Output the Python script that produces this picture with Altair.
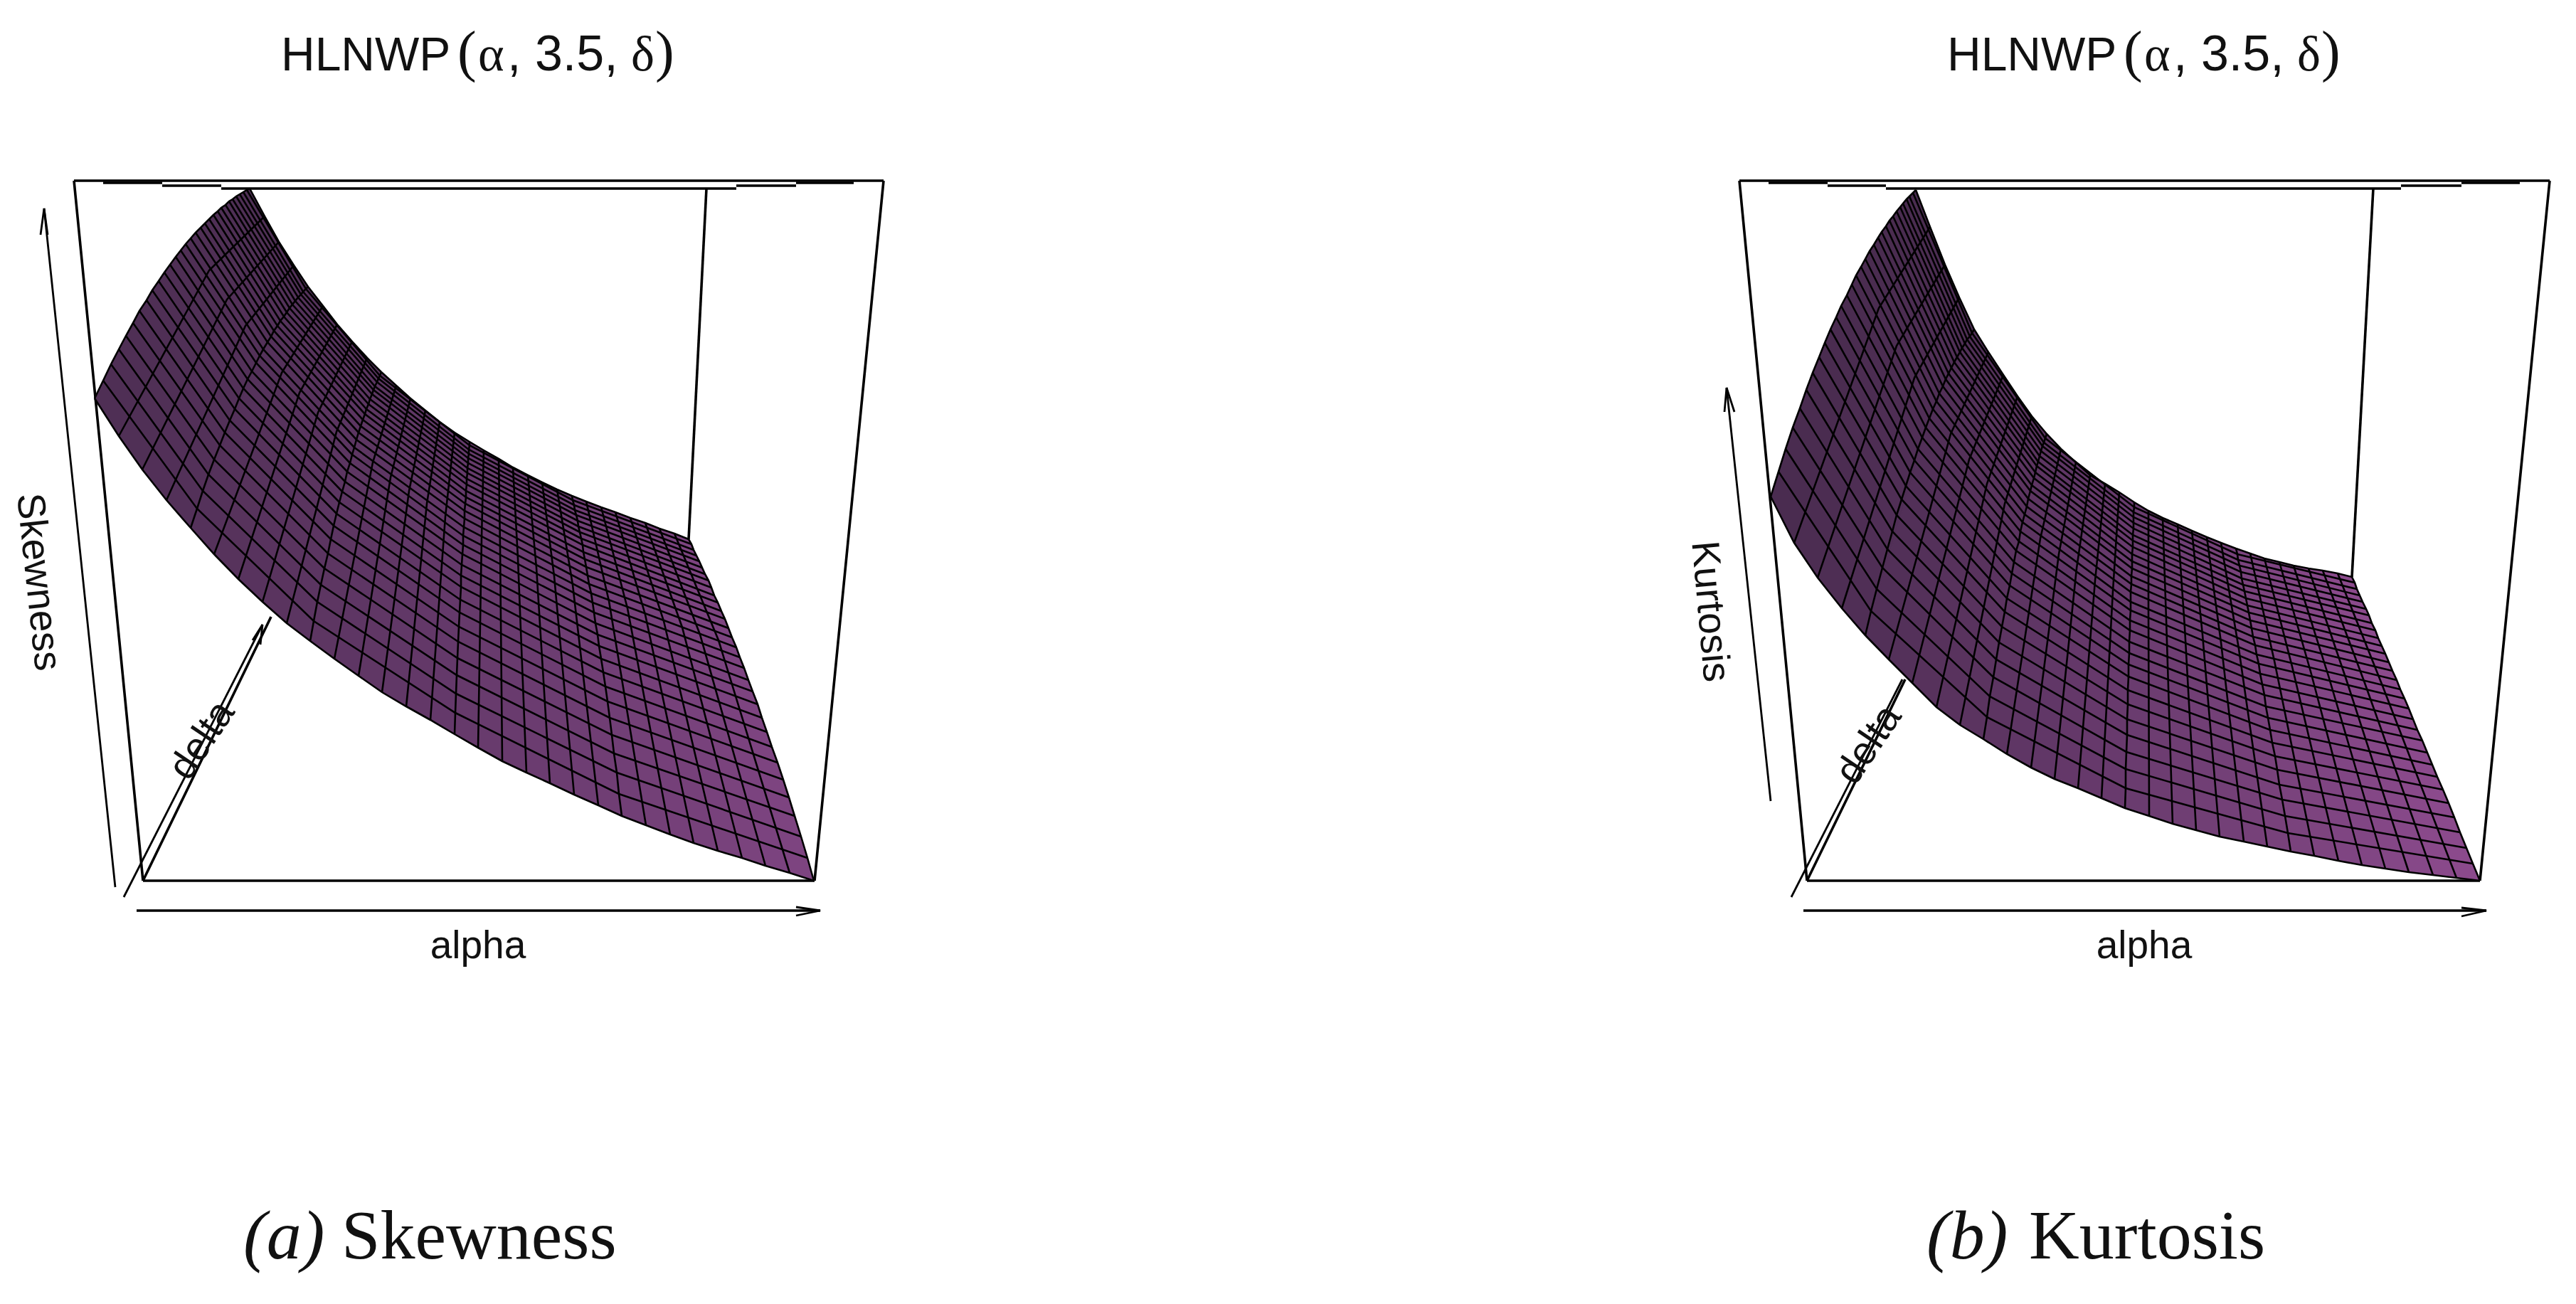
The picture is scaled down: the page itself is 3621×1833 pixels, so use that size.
import altair as alt

# ---- Panel (a) Skewness: surface vertices (page pixels) ----
A_FRONT_X = [133,167,200,234,268,301,335,369,403,436,470,504,537,571,605,639,672,706,740,773,807,841,874,908,942,975,1009,1043,1076,1110,1144]
A_FRONT_Y = [560,613,660,703,742,779,814,846,876,901,926,950,973,993,1012,1032,1051,1070,1086,1101,1117,1132,1147,1160,1173,1185,1196,1206,1217,1227,1238]
A_BACK_X = [351,372,392,413,433,454,474,495,516,536,557,577,598,618,639,660,680,701,721,742,762,783,804,824,845,865,886,907,927,948,968]
A_BACK_Y = [265,304,340,373,403,430,456,480,503,523,542,560,577,593,608,621,633,645,657,668,678,688,697,705,713,720,728,735,743,750,758]
A_MID_X = [268,294,319,345,370,396,421,447,473,498,524,549,575,600,626,652,677,703,728,754,779,805,831,856,882,907,933,959,984,1010,1035]
A_MID_Y = [335,380,421,458,491,524,552,580,607,629,650,671,690,708,726,741,756,771,785,798,810,822,834,845,855,864,873,882,892,900,910]

A_C0_X = [133,145,156,167,177,187,196,206,214,223,231,239,247,254,261,268,275,282,288,294,300,306,311,317,322,327,332,337,342,347,351]
A_C0_Y = [560,535,512,491,472,454,437,422,408,395,383,372,361,352,343,335,327,320,314,308,302,297,292,288,283,280,276,273,270,267,265]
A_C4_X = [268,277,285,293,301,309,316,323,330,336,342,348,354,360,365,370,376,381,385,390,394,399,403,407,411,415,419,423,426,430,433]
A_C4_Y = [742,715,690,667,646,626,608,591,575,560,546,533,522,510,500,491,481,473,465,458,451,445,439,433,428,423,418,414,410,406,403]
A_C9_X = [436,441,446,451,456,461,465,469,473,477,481,485,488,492,495,498,501,504,507,510,513,515,518,520,523,525,527,530,532,534,536]
A_C9_Y = [901,873,846,822,799,778,758,739,722,706,691,677,663,651,639,629,618,608,599,590,582,575,568,561,554,548,543,537,532,528,523]
A_C15_X = [639,640,641,642,643,644,645,646,647,648,648,649,650,651,651,652,653,653,654,655,655,656,656,657,657,658,658,659,659,660,660]
A_C15_Y = [1032,1002,975,949,925,902,881,861,843,825,809,794,779,766,753,741,729,718,708,699,690,681,673,665,658,651,644,638,632,626,621]
A_C22_X = [874,870,867,863,860,857,854,851,848,845,842,840,837,835,833,831,828,826,824,822,820,819,817,815,813,812,810,808,807,805,804]
A_C22_Y = [1147,1116,1086,1059,1033,1009,986,965,945,926,908,892,876,861,847,834,821,809,797,786,776,766,757,748,740,732,724,717,710,703,697]
A_C30_X = [1144,1135,1126,1117,1109,1101,1093,1085,1078,1071,1065,1058,1052,1046,1040,1035,1029,1024,1019,1014,1009,1004,1000,996,991,987,983,979,975,972,968]
A_C30_Y = [1238,1206,1176,1147,1121,1096,1072,1050,1029,1009,990,972,956,939,924,910,896,883,870,859,847,837,826,816,807,798,789,781,773,765,758]

# ---- Panel (b) Kurtosis ----
B_FRONT_X = [2489,2522,2555,2589,2622,2655,2688,2722,2755,2788,2821,2855,2888,2921,2954,2987,3021,3054,3087,3120,3154,3187,3220,3253,3287,3320,3353,3386,3420,3453,3486]
B_FRONT_Y = [698,763,812,855,893,927,960,994,1019,1039,1060,1079,1095,1108,1122,1136,1147,1158,1167,1176,1183,1190,1197,1203,1210,1216,1221,1226,1230,1234,1238]
B_BACK_X = [2693,2713,2734,2754,2775,2795,2816,2836,2856,2877,2897,2918,2938,2959,2979,3000,3020,3040,3061,3081,3102,3122,3143,3163,3183,3204,3224,3245,3265,3286,3306]
B_BACK_Y = [267,319,372,418,463,495,527,557,585,610,631,650,668,680,692,706,718,728,737,746,755,763,771,778,785,790,795,799,802,806,811]
B_MID_X = [2616,2641,2666,2691,2717,2742,2768,2793,2818,2843,2868,2894,2919,2945,2970,2995,3020,3045,3071,3096,3122,3147,3172,3197,3222,3248,3273,3298,3324,3349,3374]
B_MID_Y = [375,433,486,531,575,610,646,680,708,734,757,779,799,816,831,846,859,871,882,892,903,912,920,929,937,944,950,955,960,964,969]

B_C0_X = [2489,2500,2510,2520,2530,2539,2548,2557,2565,2573,2581,2588,2596,2603,2609,2616,2622,2628,2634,2640,2645,2651,2656,2661,2666,2671,2675,2680,2684,2689,2693]
B_C0_Y = [698,663,631,601,574,548,524,502,482,463,446,430,415,400,387,375,364,353,344,334,326,318,310,304,297,291,286,280,276,271,267]
B_C4_X = [2622,2630,2638,2646,2653,2660,2666,2673,2679,2685,2691,2696,2702,2707,2712,2717,2722,2726,2731,2735,2739,2743,2747,2751,2755,2758,2762,2765,2769,2772,2775]
B_C4_Y = [893,859,828,798,772,747,724,702,683,664,647,631,615,601,588,575,564,553,543,533,525,517,509,502,495,489,483,477,473,468,463]
B_C9_X = [2788,2793,2797,2802,2806,2810,2814,2818,2821,2825,2828,2831,2834,2838,2840,2843,2846,2849,2851,2854,2856,2859,2861,2863,2865,2867,2869,2871,2873,2875,2877]
B_C9_Y = [1039,1008,979,952,927,903,881,860,841,823,806,790,774,761,747,734,723,712,701,690,682,672,664,655,649,641,634,627,622,616,610]
B_C15_X = [2987,2988,2988,2989,2990,2990,2991,2991,2992,2992,2993,2993,2994,2994,2995,2995,2995,2996,2996,2997,2997,2997,2998,2998,2998,2999,2999,2999,2999,3000,3000]
B_C15_Y = [1136,1108,1081,1057,1033,1011,990,970,951,934,918,902,886,872,858,846,832,821,810,799,789,779,769,760,752,743,735,727,720,713,706]
B_C22_X = [3220,3216,3212,3208,3204,3201,3198,3194,3191,3188,3185,3183,3180,3177,3175,3172,3170,3167,3165,3163,3161,3159,3157,3155,3153,3151,3150,3148,3146,3145,3143]
B_C22_Y = [1197,1171,1147,1124,1103,1082,1063,1044,1026,1009,993,977,962,947,933,920,907,895,883,872,861,851,841,831,822,813,804,795,787,779,771]
B_C30_X = [3486,3476,3467,3458,3450,3442,3434,3426,3419,3412,3405,3398,3392,3386,3380,3374,3369,3363,3358,3353,3348,3343,3339,3334,3330,3326,3321,3317,3313,3310,3306]
B_C30_Y = [1238,1214,1192,1170,1149,1129,1110,1092,1075,1058,1041,1026,1011,996,982,969,956,943,931,919,908,897,886,876,865,856,846,837,828,819,811]

COLUMN_INDEX = [0, 4, 9, 15, 22, 30]

# Box lines, axes and arrow heads: polylines of (x, y)
BOX_LINES = [
    [(104,254),(1242,254)], [(104,254),(201,1238)], [(1242,254),(1145,1238)], [(201,1238),(1145,1238)],
    [(145,257),(228,257)], [(228,261),(311,261)], [(311,265),(1035,265)], [(1035,261),(1119,261)], [(1119,257),(1200,257)],
    [(993,265),(968,758)], [(201,1238),(381,867)],
    [(2445,254),(3584,254)], [(2445,254),(2540,1238)], [(3584,254),(3486,1238)], [(2540,1238),(3486,1238)],
    [(2486,257),(2569,257)], [(2569,261),(2651,261)], [(2651,265),(3375,265)], [(3375,261),(3460,261)], [(3460,257),(3542,257)],
    [(3336,265),(3306,811)], [(2540,1238),(2678,955)],
    [(192,1280),(1153,1280)], [(2535,1280),(3495,1280)],
]
THIN_LINES = [
    [(62,293),(162,1247)], [(174,1261),(369,878)], [(2427,545),(2489,1126)], [(2518,1261),(2674,955)],
    [(57,330),(62,293),(67,330)], [(355,900),(369,878),(366,906)],
    [(1119,1275),(1153,1280),(1119,1287)], [(3460,1276),(3495,1280),(3460,1288)],
    [(2424,579),(2427,545),(2438,579)],
]

SANS, SERIF = "Liberation Sans", "Liberation Serif"
TITLE_RUNS = [
    ("HLNWP", 395, 66, SANS), ("(", 643, 80, SERIF), ("α", 672, 70, SERIF),
    (", 3.5,", 713, 70, SANS), ("δ", 887, 70, SERIF), (")", 921, 80, SERIF),
]
TITLE_SHIFT = [0, 2342]
TEXTS = [
    ("alpha", 672, 1347, 55, 0, "center", SANS, "normal"),
    ("alpha", 3014, 1347, 55, 0, "center", SANS, "normal"),
    ("Skewness", 37, 820, 55, 84, "center", SANS, "normal"),
    ("Kurtosis", 2387, 861, 55, 85, "center", SANS, "normal"),
    ("delta", 298, 1050, 55, 304, "center", SANS, "normal"),
    ("delta", 2641, 1056, 55, 304, "center", SANS, "normal"),
    ("(a)", 342, 1769, 98, 0, "left", SERIF, "italic"),
    ("Skewness", 480, 1769, 98, 0, "left", SERIF, "normal"),
    ("(b)", 2708, 1769, 98, 0, "left", SERIF, "italic"),
    ("Kurtosis", 2852, 1769, 98, 0, "left", SERIF, "normal"),
]
for shift in TITLE_SHIFT:
    for run, rx, rsize, rfam in TITLE_RUNS:
        TEXTS.append((run, rx + shift, 99, rsize, 0, "left", rfam, "normal"))

W, H = 3600, 1810
X = alt.X("x:Q", axis=None, scale=alt.Scale(domain=[8, 8 + W], nice=False, zero=False))
Y = alt.Y("y:Q", axis=None, scale=alt.Scale(domain=[8 + H, 8], nice=False, zero=False))


def strips(front_x, front_y, mid_x, mid_y, back_x, back_y, c0x, c0y, c30x, c30y):
    feats = []
    for i in range(30):
        if i == 0:
            left = list(zip(c0x, c0y))
        else:
            left = [(front_x[i], front_y[i]), (mid_x[i], mid_y[i]), (back_x[i], back_y[i])]
        if i == 29:
            right = list(zip(c30x, c30y))
        else:
            right = [(front_x[i + 1], front_y[i + 1]), (mid_x[i + 1], mid_y[i + 1]), (back_x[i + 1], back_y[i + 1])]
        ring = left + right[::-1] + [left[0]]
        feats.append({"type": "Feature", "properties": {"i": i},
                      "geometry": {"type": "Polygon", "coordinates": [[list(p) for p in ring]]}})
    return feats


def fill_layer(feats, dark, light):
    data = alt.Data(values=feats)
    return alt.Chart(data).mark_geoshape(strokeWidth=1).encode(
        color=alt.Color("properties.i:Q", legend=None,
                        scale=alt.Scale(domain=[0, 29], range=[dark, light])),
        stroke=alt.Color("properties.i:Q", legend=None,
                         scale=alt.Scale(domain=[0, 29], range=[dark, light])),
    ).project(type="identity", scale=1, translate=[-8, -8])


def mesh_rows(panel, fx, fy, mx, my, bx, by, cols):
    rows = []
    # alpha-direction lines
    rows += [dict(id=f"{panel}a0", k=k, x=a, y=b) for k, (a, b) in enumerate(zip(fx, fy))]
    rows += [dict(id=f"{panel}a30", k=k, x=a, y=b) for k, (a, b) in enumerate(zip(bx, by))]
    for j in range(1, 30):
        for k, (cx, cy) in enumerate(cols):
            rows.append(dict(id=f"{panel}a{j}", k=k, x=cx[j], y=cy[j]))
    # delta-direction lines
    by_index = dict(zip(COLUMN_INDEX, cols))
    for i in range(31):
        if i in by_index:
            cx, cy = by_index[i]
            rows += [dict(id=f"{panel}d{i}", k=k, x=a, y=b) for k, (a, b) in enumerate(zip(cx, cy))]
        else:
            for k, (a, b) in enumerate([(fx[i], fy[i]), (mx[i], my[i]), (bx[i], by[i])]):
                rows.append(dict(id=f"{panel}d{i}", k=k, x=a, y=b))
    return rows


def line_rows(polys):
    return [dict(id=n, k=k, x=p[0], y=p[1]) for n, poly in enumerate(polys) for k, p in enumerate(poly)]


def lines(rows, width):
    return alt.Chart(alt.Data(values=rows)).mark_line(
        color="#000000", strokeWidth=width, interpolate="linear", strokeJoin="miter"
    ).encode(x=X, y=Y, detail="id:N", order="k:Q")


A_COLS = [(A_C0_X, A_C0_Y), (A_C4_X, A_C4_Y), (A_C9_X, A_C9_Y), (A_C15_X, A_C15_Y), (A_C22_X, A_C22_Y), (A_C30_X, A_C30_Y)]
B_COLS = [(B_C0_X, B_C0_Y), (B_C4_X, B_C4_Y), (B_C9_X, B_C9_Y), (B_C15_X, B_C15_Y), (B_C22_X, B_C22_Y), (B_C30_X, B_C30_Y)]

layers = [
    lines(line_rows(BOX_LINES), 3.6),
    lines(line_rows(THIN_LINES), 2.8),
    fill_layer(strips(A_FRONT_X, A_FRONT_Y, A_MID_X, A_MID_Y, A_BACK_X, A_BACK_Y, A_C0_X, A_C0_Y, A_C30_X, A_C30_Y), "#4f2f55", "#7d4480"),
    fill_layer(strips(B_FRONT_X, B_FRONT_Y, B_MID_X, B_MID_Y, B_BACK_X, B_BACK_Y, B_C0_X, B_C0_Y, B_C30_X, B_C30_Y), "#4a2c50", "#8b4a8c"),
    lines(mesh_rows("A", A_FRONT_X, A_FRONT_Y, A_MID_X, A_MID_Y, A_BACK_X, A_BACK_Y, A_COLS), 2.6),
    lines(mesh_rows("B", B_FRONT_X, B_FRONT_Y, B_MID_X, B_MID_Y, B_BACK_X, B_BACK_Y, B_COLS), 2.6),
]
for txt, tx, ty, size, ang, al, fam, sty in TEXTS:
    layers.append(
        alt.Chart(alt.Data(values=[dict(t=txt, x=tx, y=ty)])).mark_text(
            fontSize=size, angle=ang, align=al, baseline="alphabetic", font=fam, fontStyle=sty, color="#111111"
        ).encode(x=X, y=Y, text="t:N")
    )

chart = alt.layer(*layers).resolve_scale(color="independent", stroke="independent").properties(
    width=W, height=H, padding=0, autosize=alt.AutoSizeParams(type="none"), background="#ffffff"
).configure_view(stroke=None)

chart.save("out.html", embed_options={"renderer": "svg", "actions": False})
